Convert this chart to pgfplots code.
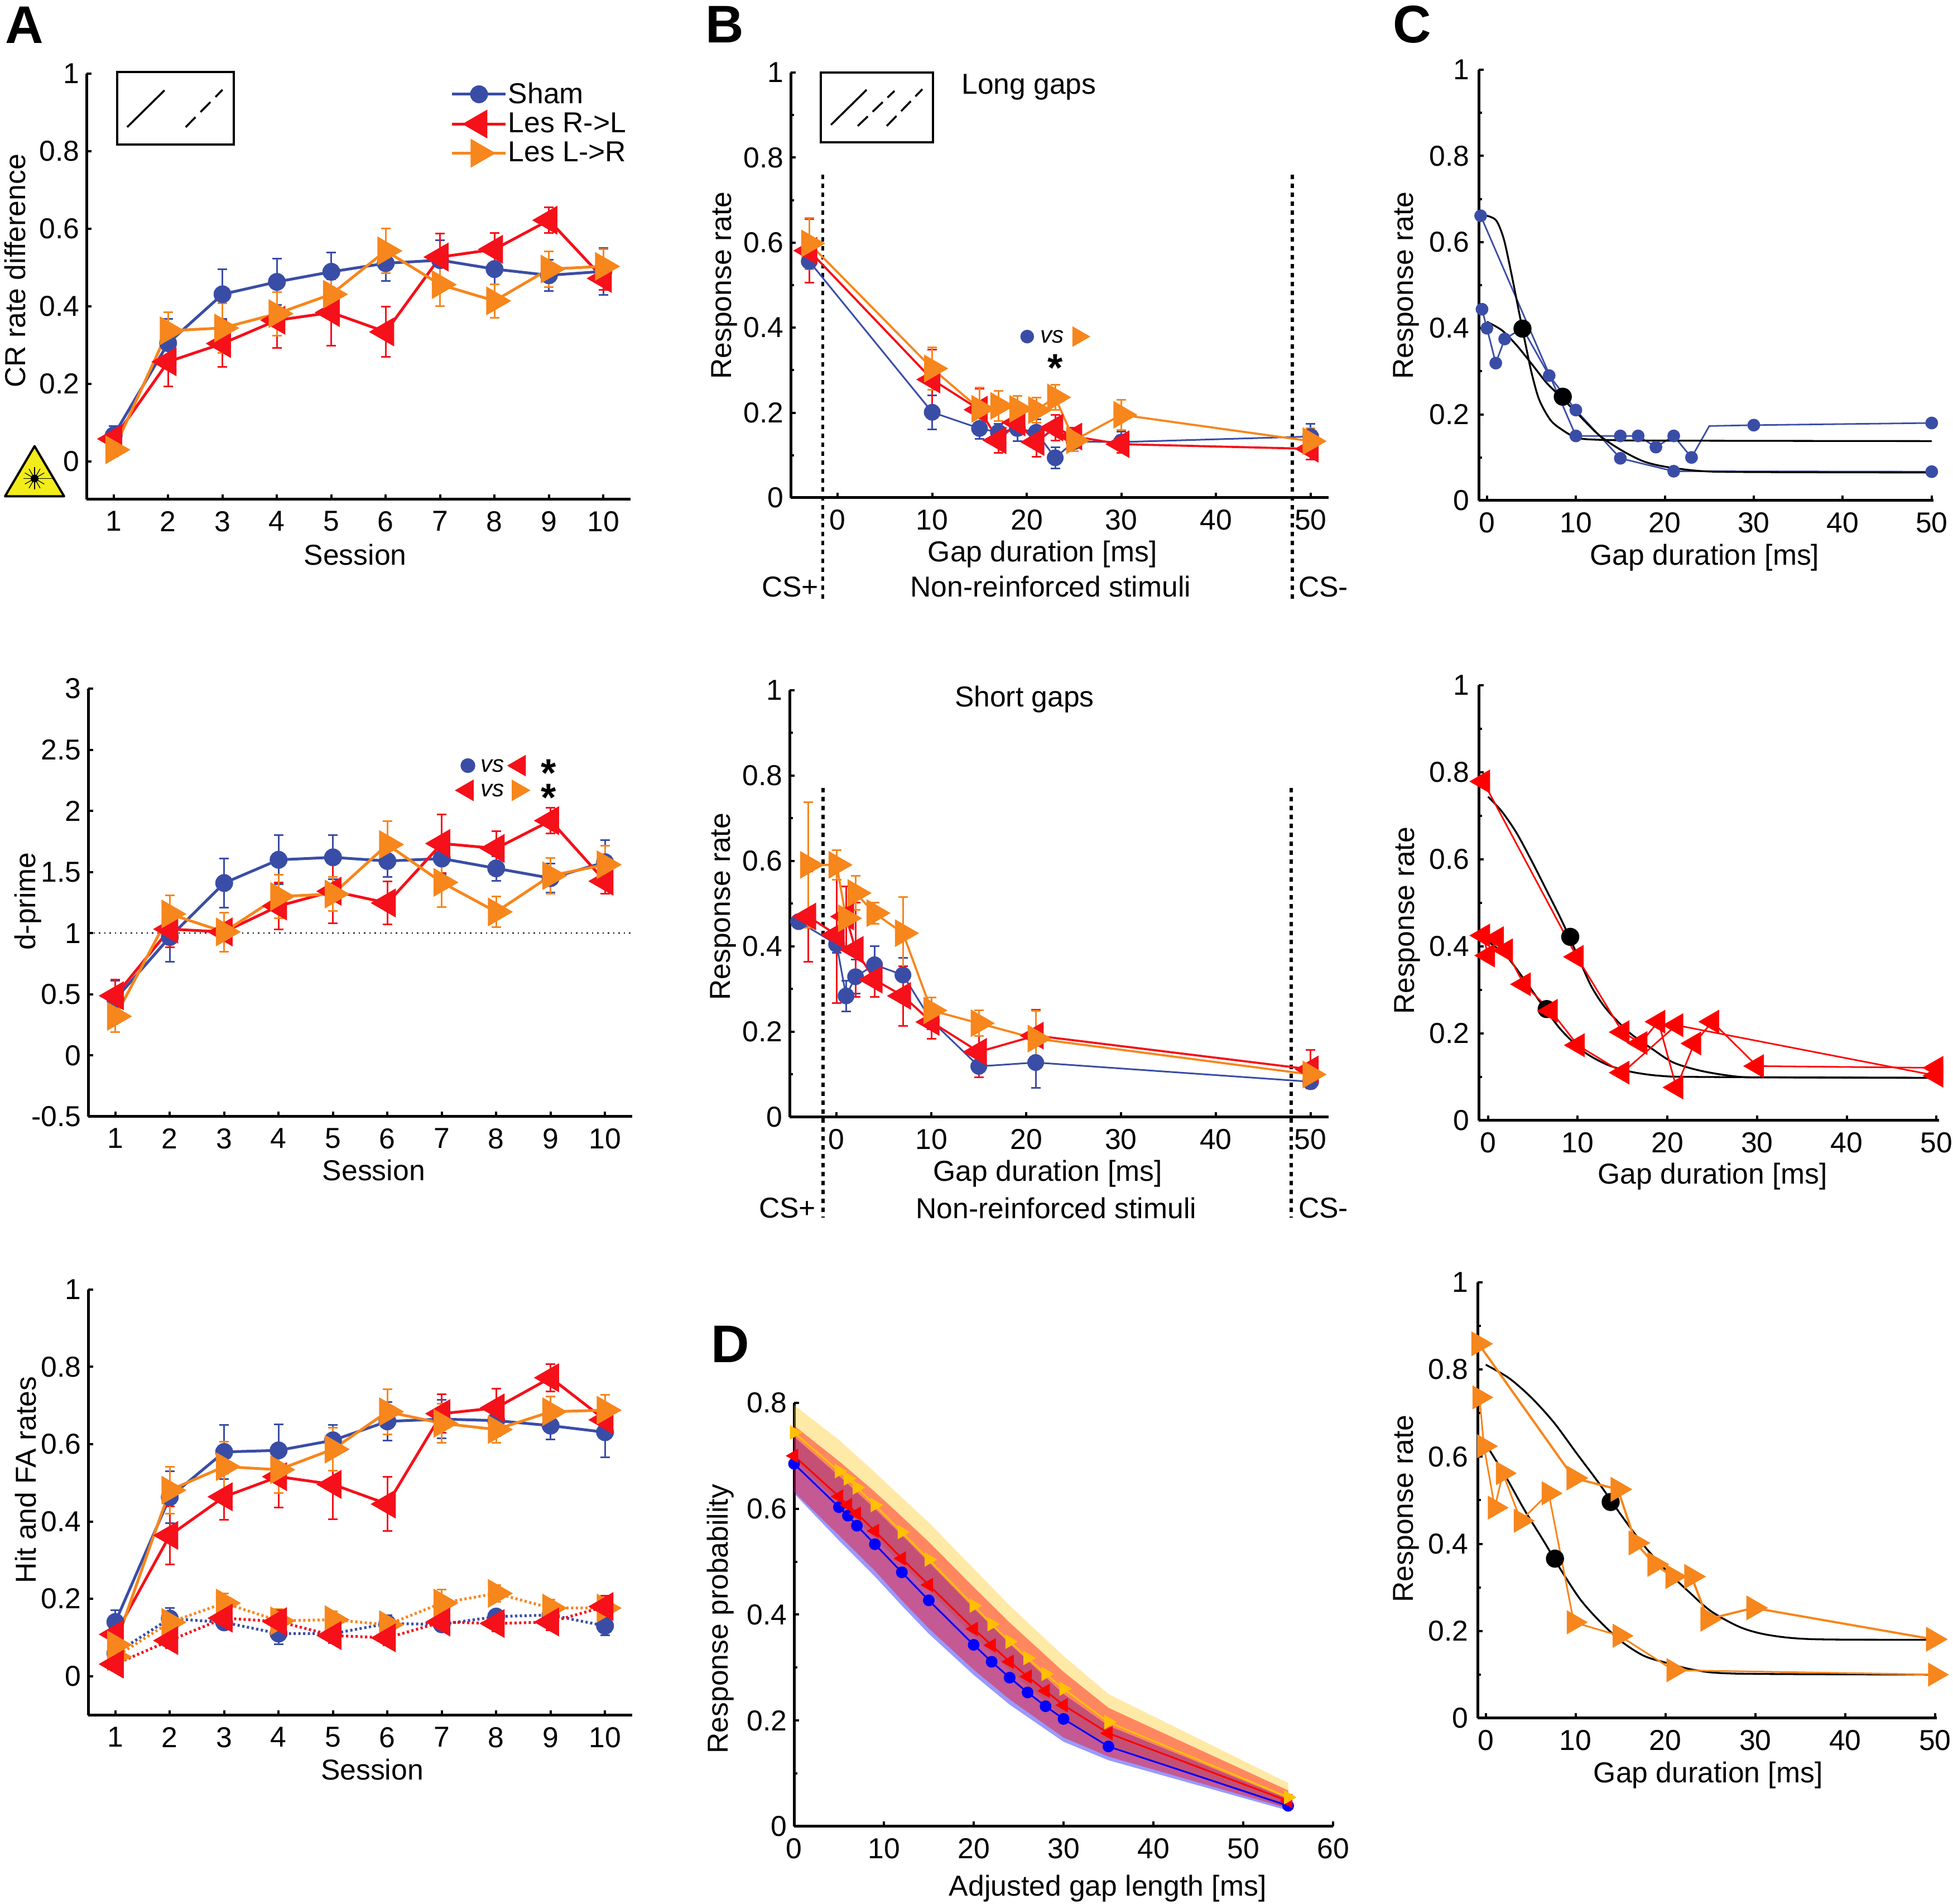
\documentclass[border=0pt]{standalone}
\usepackage{fontspec}
\setmainfont{Liberation Sans}
\usepackage{pgfplots}
\pgfplotsset{compat=1.18}

\definecolor{shamb}{HTML}{3A4DA6}
\definecolor{lesr}{HTML}{F5101A}
\definecolor{lesl}{HTML}{F7861C}
\definecolor{dblue}{HTML}{0000FF}
\definecolor{dred}{HTML}{FF0000}
\definecolor{dyel}{HTML}{FFC000}
\definecolor{lasery}{HTML}{F2EC1A}
\newcommand{\F}{\fontsize{14.7}{17}\selectfont}

\pgfplotsset{
  panel/.style n args={4}{at={(#1cm,{34.12cm-#2cm})},anchor=south west,
    width=#3cm,height=#4cm,scale only axis},
  labs/.style n args={4}{
    y label style={at={(axis description cs:#1,#2)},anchor=center},
    x label style={at={(axis description cs:#3,#4)},anchor=center}},
  base/.style={clip=false,axis x line*=bottom,axis y line*=left,
    axis line style={line width=0.05cm},
    tick style={black,line width=0.04cm},tick align=inside,
    major tick length=0.09cm,minor tick length=0.06cm,
    /pgf/number format/assume math mode=true,scaled ticks=false,
    tick label style={font=\F},label style={font=\F},
    xticklabel style={yshift=-0.09cm},
    error bars/y dir=both,error bars/y explicit,
    error bars/error bar style={solid,line width=0.03cm},
    error bars/error mark options={rotate=90,mark size=0.085cm,line width=0.03cm}},
  sessions/.style={base,xmin=0.5,xmax=10.5,xtick={1,...,10},xlabel={Session}},
  gaps/.style={base,xmin=-4.96,xmax=51.9,ymin=0,ymax=1,xtick={0,10,...,50},
    ytick={0,0.2,...,1},minor y tick num=1,xlabel={Gap duration [ms]},ylabel={Response rate}},
  fit/.style={base,ymin=0,ymax=1,xtick={0,10,...,50},
    ytick={0,0.2,...,1},minor y tick num=1,xlabel={Gap duration [ms]},ylabel={Response rate},
    yticklabel style={xshift=-0.04cm}},
  sh/.style={color=shamb,line width=#1,mark=*,mark size=0.135cm,mark options={solid,fill=shamb}},
  sh/.default=0.05cm,
  rd/.style={color=lesr,line width=#1,mark=triangle*,mark size=0.25cm,mark options={solid,rotate=90,fill=lesr}},
  rd/.default=0.05cm,
  or/.style={color=lesl,line width=#1,mark=triangle*,mark size=0.25cm,mark options={solid,rotate=-90,fill=lesl}},
  or/.default=0.05cm,
  dots/.style={dash pattern=on 0.04cm off 0.045cm},
  curve/.style={black,line width=0.033cm,smooth,no marks},
  pse/.style={only marks,mark=*,mark size=0.155cm,black},
  gate/.style={black,line width=0.055cm,dash pattern=on 0.08cm off 0.08cm,no marks,forget plot},
  keyline/.style={legend image code/.code={\draw[mark repeat=2,mark phase=2,##1] plot coordinates {(0cm,0cm)(0.48cm,0cm)(0.96cm,0cm)};}},
}

\begin{document}
\begin{tikzpicture}[font=\F]
\useasboundingbox (0,0) rectangle (35cm,34.12cm);

% ---- A top
\begin{axis}[panel={1.55}{8.95}{9.75}{7.63},sessions,labs={-0.131}{0.537}{0.494}{-0.130},
  ylabel={CR rate difference},ymin=-0.098,ymax=1,ytick={0,0.2,...,1},keyline,
  legend style={at={(0.669,0.983)},anchor=north west,draw=none,fill=none,
    legend cell align=left,row sep=0.075cm,inner sep=0pt,
    nodes={inner sep=0.02cm,font=\F}}]
\addplot[sh] table[y error=e] {
x y e
1 .067 .024
2 .305 .063
3 .431 .064
4 .463 .060
5 .489 .050
6 .511 .046
7 .519 .052
8 .496 .040
9 .480 .040
10 .490 .060
};
\addplot[rd] table[y error=e] {
x y e
1 .058 .020
2 .257 .063
3 .304 .060
4 .364 .072
5 .384 .085
6 .334 .065
7 .527 .060
8 .547 .042
9 .622 .033
10 .472 .030
};
\addplot[or] table[y error=e] {
x y e
1 .030 .018
2 .337 .048
3 .344 .064
4 .381 .056
5 .431 .048
6 .543 .058
7 .456 .055
8 .414 .043
9 .496 .046
10 .503 .044
};
\legend{Sham,Les R->L,Les L->R}
\end{axis}

% ---- A middle
\begin{axis}[panel={1.58}{20.01}{9.75}{7.67},sessions,labs={-0.111}{0.503}{0.525}{-0.125},
  ylabel={d-prime},ymin=-0.5,ymax=3,ytick={-0.5,0,0.5,1,1.5,2,2.5,3}]
\addplot[black,line width=0.018cm,dash pattern=on 0.025cm off 0.07cm,forget plot] coordinates {(0.6,1) (10.5,1)};
\addplot[sh] table[y error=e] {
x y e
1 .46 .15
2 .968 .20
3 1.41 .20
4 1.60 .20
5 1.62 .18
6 1.59 .13
7 1.61 .13
8 1.53 .10
9 1.45 .12
10 1.58 .18
};
\addplot[rd] table[y error=e] {
x y e
1 .488 .13
2 1.033 .15
3 1.01 .16
4 1.222 .19
5 1.343 .26
6 1.247 .175
7 1.733 .24
8 1.693 .14
9 1.92 .105
10 1.425 .10
};
\addplot[or] table[y error=e] {
x y e
1 .32 .13
2 1.157 .15
3 1.01 .16
4 1.30 .18
5 1.32 .14
6 1.725 .19
7 1.415 .20
8 1.174 .125
9 1.47 .145
10 1.56 .155
};
\addplot[only marks,mark=*,mark size=0.125cm,color=shamb] coordinates {(7.48,2.37)};
\addplot[only marks,mark=triangle*,mark size=0.21cm,mark options={rotate=90},color=lesr] coordinates {(8.43,2.37) (7.47,2.168)};
\addplot[only marks,mark=triangle*,mark size=0.21cm,mark options={rotate=-90},color=lesl] coordinates {(8.40,2.168)};
\node[font=\fontsize{12}{13}\itshape] at (axis cs:7.93,2.37) {vs};
\node[font=\fontsize{12}{13}\itshape] at (axis cs:7.93,2.168) {vs};
\node[font=\fontsize{20}{21}\bfseries,inner sep=0pt] at (axis cs:8.96,2.31) {*};
\node[font=\fontsize{20}{21}\bfseries,inner sep=0pt] at (axis cs:8.96,2.11) {*};
\end{axis}

% ---- A bottom
\begin{axis}[panel={1.58}{30.74}{9.75}{7.63},sessions,labs={-0.115}{0.553}{0.522}{-0.127},
  ylabel={Hit and FA rates},ymin=-0.1016,ymax=1,ytick={0,0.2,...,1}]
\addplot[sh] table[y error=e] {
x y e
1 .140 .030
2 .463 .067
3 .580 .070
4 .584 .067
5 .610 .040
6 .659 .050
7 .665 .050
8 .661 .040
9 .648 .035
10 .631 .065
};
\addplot[sh,dots] table[y error=e] {
x y e
1 .059 .020
2 .149 .028
3 .139 .018
4 .110 .027
5 .110 .023
6 .136 .022
7 .134 .018
8 .154 .015
9 .158 .015
10 .130 .025
};
\addplot[or,dots] table[y error=e] {
x y e
1 .050 .010
2 .139 .025
3 .189 .025
4 .143 .030
5 .146 .022
6 .133 .020
7 .189 .035
8 .214 .022
9 .176 .022
10 .176 .030
};
\addplot[rd,dots] table[y error=e] {
x y e
1 .031 .010
2 .092 .020
3 .150 .020
4 .141 .030
5 .105 .020
6 .099 .020
7 .140 .018
8 .136 .020
9 .140 .022
10 .180 .028
};
\addplot[rd] table[y error=e] {
x y e
1 .108 .030
2 .364 .075
3 .464 .060
4 .516 .080
5 .496 .090
6 .445 .070
7 .679 .050
8 .694 .050
9 .772 .035
10 .663 .040
};
\addplot[or] table[y error=e] {
x y e
1 .081 .030
2 .481 .060
3 .542 .065
4 .534 .060
5 .587 .055
6 .684 .058
7 .654 .050
8 .638 .035
9 .684 .040
10 .688 .040
};
\end{axis}

% ---- B long gaps
\begin{axis}[panel={14.17}{8.92}{9.64}{7.62},gaps,labs={-0.123}{0.499}{0.468}{-0.133}]
\addplot[gate] coordinates {(-1.58,0.76) (-1.58,-0.237)};
\addplot[gate] coordinates {(48.06,0.76) (48.06,-0.237)};
\addplot[sh=0.03cm] table[y error=e] {
x y e
-3 .556 .050
10 .201 .040
15 .163 .025
17 .154 .020
19 .163 .030
21 .154 .030
23 .094 .025
25 .132 .010
30 .131 .025
50 .144 .030
};
\addplot[rd=0.038cm] table[y error=e] {
x y e
-3 .581 .075
10 .278 .070
15 .207 .050
17 .135 .030
19 .177 .030
21 .131 .035
23 .165 .030
25 .144 .020
30 .126 .020
50 .115 .025
};
\addplot[or=0.038cm] table[y error=e] {
x y e
-3 .598 .060
10 .304 .050
15 .209 .050
17 .216 .035
19 .209 .030
21 .206 .030
23 .236 .030
25 .135 .025
30 .195 .035
50 .133 .030
};
\addplot[only marks,mark=*,mark size=0.115cm,color=shamb] coordinates {(20.04,0.379)};
\addplot[only marks,mark=triangle*,mark size=0.2cm,mark options={rotate=-90},color=lesl] coordinates {(25.45,0.379)};
\node[font=\fontsize{12}{13}\itshape] at (axis cs:22.65,0.379) {vs};
\node[font=\fontsize{20}{21}\bfseries,inner sep=0pt] at (axis cs:23,0.305) {*};
\end{axis}

% ---- B short gaps
\begin{axis}[panel={14.15}{20.02}{9.66}{7.65},gaps,labs={-0.123}{0.493}{0.479}{-0.132}]
\addplot[gate] coordinates {(-1.44,0.771) (-1.44,-0.235)};
\addplot[gate] coordinates {(47.97,0.771) (47.97,-0.235)};
\addplot[sh=0.03cm] table[y error=e] {
x y e
-4 .458 .010
0 .405 .020
1 .284 .036
2 .329 .040
4 .357 .044
7 .333 .040
10 .226 .020
15 .119 .025
21 .128 .060
50 .083 .010
};
\addplot[rd=0.038cm] table[y error=e] {
x y e
-3 .470 .106
0 .427 .160
1 .470 .070
2 .392 .110
4 .322 .040
7 .284 .070
10 .223 .040
15 .153 .060
21 .191 .060
50 .112 .045
};
\addplot[or=0.038cm] table[y error=e] {
x y e
-3 .591 .147
0 .591 .035
1 .466 .020
2 .525 .040
4 .478 .025
7 .431 .085
10 .250 .030
15 .220 .030
21 .184 .065
50 .100 .015
};
\end{axis}

% ---- C long/short, sham
\begin{axis}[panel={26.50}{8.97}{8.15}{7.72},fit,xmin=-0.92,xmax=50.2,labs={-0.160}{0.499}{0.497}{-0.133}]
\addplot[color=shamb,line width=0.028cm,mark=*,mark size=0.1cm,mark options={fill=shamb}] coordinates {
(-0.7,.661) (10,.15) (15,.15) (17,.15) (19,.124) (21,.15) (23,.10)};
\addplot[color=shamb,line width=0.028cm,no marks] coordinates {(23,.10) (25,.173) (30,.175)};
\addplot[color=shamb,line width=0.028cm,mark=*,mark size=0.1cm,mark options={fill=shamb}] coordinates {(30,.175) (50,.18)};
\addplot[color=shamb,line width=0.028cm,mark=*,mark size=0.1cm,mark options={fill=shamb}] coordinates {
(-0.55,.444) (0,.40) (1,.319) (2,.375) (4,.40) (7,.29) (10,.21) (15,.098) (21,.068) (50,.067)};
\addplot[curve] coordinates {(0,.661) (1.05,.650) (1.9,.607) (2.73,.529) (3.57,.442) (4.41,.356) (5.04,.295) (5.88,.234) (7.14,.187) (8.4,.165) (10.08,.146) (12.6,.141) (20.2,.139) (50,.138)};
\addplot[curve] coordinates {(0,.415) (1.7,.395) (3.36,.36) (5.04,.317) (6.72,.273) (8.4,.239) (10.08,.204) (12.6,.152) (15.1,.117) (17.6,.091) (20.2,.078) (24.4,.068) (30.7,.066) (49.9,.065)};
\addplot[pse] coordinates {(4,.399) (8.53,.241)};
\end{axis}

% ---- C lesion R->L
\begin{axis}[panel={26.50}{20.08}{8.25}{7.80},fit,xmin=-1.04,xmax=50.3,labs={-0.155}{0.459}{0.508}{-0.129}]
\addplot[curve] coordinates {(0,.744) (1.54,.71) (3.2,.66) (4.9,.595) (6.5,.53) (8.2,.46) (9.9,.383) (11.5,.309) (13.2,.256) (15.7,.203) (18.2,.166) (20.7,.133) (24,.113) (28.2,.1) (32.4,.099) (50,.098)};
\addplot[curve] coordinates {(0,.411) (2,.379) (4,.325) (6.1,.264) (8.2,.207) (10.7,.158) (13.2,.129) (15.7,.113) (19,.103) (24,.1) (50,.098)};
\addplot[pse] coordinates {(9.17,.422) (6.54,.256)};
\addplot[color=dred,line width=0.028cm,mark=triangle*,mark size=0.22cm,mark options={rotate=90,fill=dred}] coordinates {
(-0.54,.779) (9.9,.376) (15,.203) (17,.178) (19,.227) (21,.076) (23,.177) (25,.227) (30,.125) (50,.121)};
\addplot[color=dred,line width=0.028cm,mark=triangle*,mark size=0.22cm,mark options={rotate=90,fill=dred}] coordinates {
(-0.54,.425) (0,.379) (1,.419) (2,.391) (4,.313) (7,.252) (10,.173) (15,.11) (21,.219) (50,.103)};
\end{axis}

% ---- C lesion L->R
\begin{axis}[panel={26.48}{30.79}{8.23}{7.81},fit,xmin=-0.91,xmax=50.2,labs={-0.156}{0.481}{0.502}{-0.131}]
\addplot[curve] coordinates {(0,.811) (2.6,.78) (5.1,.735) (7.6,.678) (10.1,.608) (12.6,.539) (15.1,.465) (17.6,.396) (20.1,.339) (22.6,.29) (25.1,.245) (28.4,.208) (31.7,.19) (36.7,.181) (49.8,.18)};
\addplot[curve] coordinates {(0,.629) (2.2,.555) (4.3,.478) (6.4,.408) (8.4,.339) (10.5,.273) (12.6,.224) (15.1,.176) (17.6,.143) (20.1,.127) (23.4,.11) (28.4,.102) (49.8,.1)};
\addplot[pse] coordinates {(13.9,.496) (7.7,.366)};
\addplot[color=lesl,line width=0.04cm,mark=triangle*,mark size=0.22cm,mark options={rotate=-90,fill=lesl}] coordinates {
(-0.8,.859) (9.8,.551) (14.7,.525) (16.7,.402) (18.8,.353) (20.8,.325) (22.9,.325) (24.7,.227) (29.8,.253) (49.8,.181)};
\addplot[color=lesl,line width=0.03cm,mark=triangle*,mark size=0.22cm,mark options={rotate=-90,fill=lesl}] coordinates {
(-0.7,.736) (-0.2,.624) (1,.483) (1.9,.562) (3.9,.453) (7,.516) (9.8,.22) (14.9,.189) (20.9,.11) (50,.10)};
\end{axis}

% ---- D
\begin{axis}[panel={14.23}{32.73}{9.66}{7.59},base,labs={-0.136}{0.490}{0.582}{-0.146},
  xmin=0,xmax=60,ymin=0,ymax=0.8,xtick={0,10,...,60},ytick={0,0.2,...,0.8},minor y tick num=1,
  xlabel={Adjusted gap length [ms]},ylabel={Response probability}]
\addplot[draw=none,fill=dyel,fill opacity=0.35] coordinates {
(0,.796)(5,.730)(9,.669)(12,.621)(15,.574)(20,.487)(24,.417)(30,.322)(35,.250)(55,.082)
(55,.034)(35,.155)(30,.205)(24,.295)(20,.36)(15,.446)(12,.495)(9,.545)(5,.612)(0,.69)} --cycle;
\addplot[draw=none,fill=dblue,fill opacity=0.4] coordinates {
(0,.736)(5,.662)(9,.60)(12,.55)(15,.499)(20,.412)(24,.345)(30,.25)(35,.19)(55,.052)
(55,.03)(35,.125)(30,.16)(24,.23)(20,.286)(15,.364)(12,.417)(9,.472)(5,.54)(0,.629)} --cycle;
\addplot[draw=none,fill=dred,fill opacity=0.42] coordinates {
(0,.757)(5,.69)(9,.632)(12,.585)(15,.5375)(20,.452)(24,.385)(30,.292)(35,.224)(55,.068)
(55,.034)(35,.132)(30,.168)(24,.24)(20,.296)(15,.374)(12,.427)(9,.483)(5,.55)(0,.632)} --cycle;
\addplot[color=dblue,line width=0.03cm,mark=*,mark size=0.09cm,mark options={fill=dblue}] coordinates {
(0,.685)(5,.603)(6,.587)(7,.568)(9,.533)(12,.48)(15,.427)(20,.343)(22,.311)(24,.281)(26,.253)(28,.227)(30,.203)(35,.151)(55,.039)};
\addplot[color=dred,line width=0.03cm,mark=triangle*,mark size=0.12cm,mark options={rotate=90,fill=dred}] coordinates {
(0,.70)(5,.623)(6,.607)(7,.591)(9,.558)(12,.506)(15,.456)(20,.373)(22,.342)(24,.311)(26,.283)(28,.256)(30,.229)(35,.176)(55,.048)};
\addplot[color=dyel,line width=0.03cm,mark=triangle*,mark size=0.12cm,mark options={rotate=-90,fill=dyel}] coordinates {
(0,.744)(5,.671)(6,.657)(7,.64)(9,.607)(12,.556)(15,.504)(20,.417)(22,.382)(24,.349)(26,.318)(28,.288)(30,.26)(35,.197)(55,.055)};
\end{axis}

% ---- panel letters, insets and texts, in pixels of the page
\begin{scope}[yshift=34.12cm,x=0.01cm,y=-0.01cm]
\foreach \t/\px/\py in {A/44/45,B/1300/44,C/2532/44,D/1310/2410}
  \node[font=\fontsize{27}{30}\bfseries] at (\px,\py) {\t};

\node at (1845,156) {Long gaps};
\node at (1837,1254) {Short gaps};
\node at (1884,1052) {Non-reinforced stimuli};
\node at (1894,2166) {Non-reinforced stimuli};
\node at (1417,1052) {CS+};
\node at (1412,2166) {CS+};
\node at (2373,1052) {CS-};
\node at (2373,2166) {CS-};

\draw[line width=0.04cm] (210,129) rectangle (419,259);
\draw[line width=0.035cm] (228,228) -- (295,162);
\draw[line width=0.035cm,dash pattern=on 0.25cm off 0.13cm] (333,228) -- (399,161);

\draw[line width=0.04cm] (1472,130) rectangle (1673,255);
\draw[line width=0.035cm] (1490,224) -- (1554,161);
\draw[line width=0.035cm,dash pattern=on 0.25cm off 0.12cm] (1538,226) -- (1604,163);
\draw[line width=0.035cm,dash pattern=on 0.25cm off 0.12cm] (1590,226) -- (1654,160);

% laser warning sign
\draw[line width=0.04cm,fill=lasery,line join=round] (62,800) -- (115,890) -- (9,890) -- cycle;
\foreach \a in {0,30,...,330}
  \draw[line width=0.012cm] (62,858) -- ++(\a:20);
\fill (62,858) circle (7);
\draw[line width=0.012cm] (62,858) -- (96,858);
\end{scope}
\end{tikzpicture}
\end{document}
